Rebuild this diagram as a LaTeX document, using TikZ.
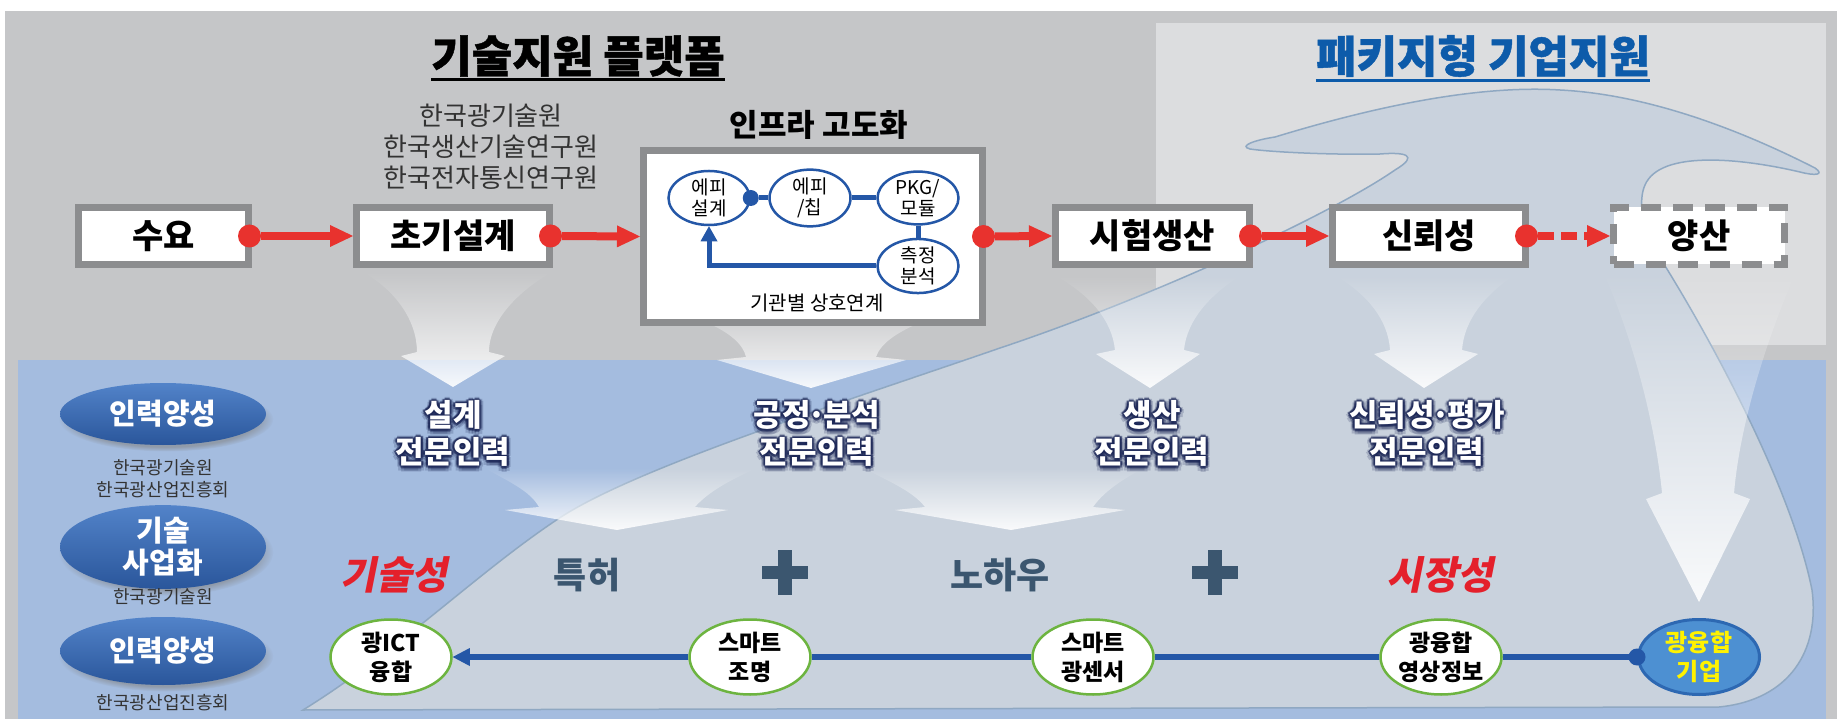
\documentclass[tikz,border=0pt]{standalone}
\usepackage{fontspec}
\setmainfont{Noto Sans CJK KR}
\newfontfamily\krsl{Noto Sans CJK KR}[BoldFeatures={FakeSlant=0.2}]
\newfontfamily\krheavy{Noto Sans CJK KR}[BoldFeatures={FakeBold=1}]
\usetikzlibrary{arrows.meta,shapes.geometric,shadows,fadings}
\definecolor{bggray}{HTML}{C5C6C8}
\definecolor{panel}{HTML}{DCDDDF}
\definecolor{bluebg}{HTML}{A4BCDF}
\definecolor{wavefill}{HTML}{C9D2DD}
\definecolor{waveline}{HTML}{8FA8C2}
\definecolor{boxgray}{HTML}{8C8D8F}
\definecolor{redc}{HTML}{E8322E}
\definecolor{bluec}{HTML}{2457A7}
\definecolor{titleblue}{HTML}{0D5BAA}
\definecolor{plusc}{HTML}{3B566F}
\definecolor{redtext}{HTML}{E4202B}
\definecolor{greenc}{HTML}{6DB440}
\definecolor{kiupfill}{HTML}{4D90D2}
\definecolor{kiupdraw}{HTML}{2D68B2}
\definecolor{elltop}{HTML}{5283C9}
\definecolor{ellbot}{HTML}{2A569B}
\definecolor{glowc}{HTML}{1B2656}
\definecolor{subtext}{HTML}{333333}
\tikzfading[name=fadetop, top color=transparent!100, middle color=transparent!50, bottom color=transparent!5]
\newcommand\mdot{\kern-.1em·\kern-.1em}
\newcommand\glowlabel[4]{%
  \foreach \dx/\dy [count=\k] in {-4/1,4/1,0/-3,0/6,-3/-1,3/-1,-3/5,3/5}{
    \node[glowfar] (#1f\k) at (#2+\dx,#3+\dy) {#4};}
  \foreach \dx/\dy [count=\k] in {-2/0.5,2/0.5,0/-1.5,0/3,-1.5/-1,1.5/-1,-1.5/2.5,1.5/2.5}{
    \node[glownear] (#1n\k) at (#2+\dx,#3+\dy) {#4};}
  \node[glowtext] (#1) at (#2,#3) {#4};}
\begin{document}
\begin{tikzpicture}[x=1pt,y=-1pt,
  every node/.style={inner sep=0pt},
  pbox/.style={draw=boxgray, line width=7pt, fill=white, minimum height=57pt, inner sep=0pt, font=\bfseries\fontsize{34}{34}\selectfont},
  redarr/.style={draw=redc, line width=8pt, shorten <=-14pt, {Circle[length=23pt,width=23pt,line width=0pt]}-{Triangle[length=23pt,width=22pt,line width=0pt]}},
  iell/.style={ellipse, draw=bluec, line width=2.5pt, fill=white, minimum width=81pt, minimum height=45pt, inner sep=0pt, align=center, font=\fontsize{19}{21}\selectfont},
  bluel/.style={draw=bluec, line width=5pt},
  funnel/.style={fill=white, path fading=fadetop, fill opacity=0.95},
  glowtext/.style={text=white, font=\bfseries\fontsize{31}{37}\selectfont, align=center, inner sep=0pt},
  glownear/.style={glowtext, text=glowc, text opacity=0.55},
  glowfar/.style={glowtext, text=glowc, text opacity=0.2},
  lell/.style={ellipse, minimum width=206pt, top color=elltop, bottom color=ellbot, text=white, font=\bfseries\fontsize{29}{32}\selectfont, align=center, inner sep=0pt, circular drop shadow={shadow xshift=3pt, shadow yshift=-5pt, shadow scale=1.04, opacity=0.55}},
  sublab/.style={text=subtext, font=\fontsize{18}{22}\selectfont, align=center},
  gcirc/.style={ellipse, draw=greenc, line width=2.5pt, fill=white, minimum width=121pt, minimum height=75pt, inner sep=0pt, align=center, font=\bfseries\fontsize{23}{29}\selectfont},
  botl/.style={draw=bluec, line width=6pt},
  bigword/.style={font=\bfseries\fontsize{36}{36}\selectfont, text=plusc},
  redword/.style={font=\krsl\bfseries\fontsize{39}{39}\selectfont, text=redtext}
]
\useasboundingbox (0,0) rectangle (1837,719);
% backgrounds
\fill[white] (0,0) rectangle (1837,719);
\fill[bggray] (5,11) rectangle (1837,719);
\fill[panel] (1156,23) rectangle (1826,345);
\fill[bluebg] (18,360) rectangle (1826,719);
% wave
\filldraw[fill=wavefill, draw=waveline, line width=1.5pt]
  (303,710) .. controls (400,650) and (480,570) .. (561,517)
  .. controls (640,466) and (850,400) .. (1000,348)
  .. controls (1150,298) and (1330,215) .. (1395,170)
  .. controls (1420,155) and (1405,152) .. (1380,154)
  .. controls (1330,155) and (1270,152) .. (1250,149)
  .. controls (1238,146) and (1255,140) .. (1275,137)
  .. controls (1380,105) and (1480,85) .. (1560,90)
  .. controls (1660,95) and (1760,140) .. (1815,168)
  .. controls (1825,175) and (1815,176) .. (1800,172)
  .. controls (1740,158) and (1660,150) .. (1645,185)
  .. controls (1638,200) and (1642,230) .. (1655,250)
  .. controls (1700,320) and (1790,480) .. (1812,590)
  .. controls (1820,650) and (1790,700) .. (1719,707)
  -- cycle;
% funnel arrows
\fill[funnel] (363,272) .. controls (395,290) and (417,320) .. (417,352) -- (401,356) -- (453,387) -- (505,356) -- (489,352) .. controls (489,320) and (520,290) .. (552,272) -- cycle;
\fill[funnel] (645,300) .. controls (690,315) and (740,330) .. (746,357) -- (717,360) -- (811,388) -- (906,360) -- (876,357) .. controls (885,330) and (940,315) .. (985,300) -- cycle;
\fill[funnel] (1056,276) .. controls (1090,295) and (1112,320) .. (1115,350) -- (1096,354) -- (1150,388) -- (1200,354) -- (1184,350) .. controls (1187,320) and (1210,295) .. (1240,276) -- cycle;
\fill[funnel] (1336,276) .. controls (1368,295) and (1388,320) .. (1390,350) -- (1374,354) -- (1424,388) -- (1478,354) -- (1462,350) .. controls (1464,320) and (1485,295) .. (1513,276) -- cycle;
\fill[funnel] (1603,272) .. controls (1630,330) and (1655,420) .. (1662,493) -- (1646,499) -- (1699,602) -- (1750,499) -- (1734,493) .. controls (1740,420) and (1770,330) .. (1796,272) -- cycle;
\fill[funnel] (485,468) .. controls (505,480) and (530,490) .. (539,507) -- (505,510) -- (617,530) -- (728,510) -- (695,507) .. controls (710,490) and (735,478) .. (757,468) -- cycle;
\fill[funnel] (864,468) .. controls (885,480) and (912,490) .. (925,507) -- (895,510) -- (1011,530) -- (1125,510) -- (1093,507) .. controls (1105,490) and (1125,478) .. (1144,468) -- cycle;
% titles
\node[font=\krheavy\bfseries\fontsize{44}{44}\selectfont] (t1) at (578,56) {기술지원 플랫폼};
\draw[line width=3pt] ([yshift=-3pt]t1.south west) -- ([yshift=-3pt]t1.south east);
\node[font=\krheavy\bfseries\fontsize{44}{44}\selectfont, text=titleblue] (t2) at (1483,56) {패키지형 기업지원};
\draw[line width=3pt, titleblue] ([yshift=-3pt]t2.south west) -- ([yshift=-3pt]t2.south east);
\node[align=center, text=subtext, font=\fontsize{26}{31}\selectfont] (inst) at (491,147) {한국광기술원\\한국생산기술연구원\\한국전자통신연구원};
\node[font=\bfseries\fontsize{31}{31}\selectfont] (infratitle) at (819,125) {인프라 고도화};
% process boxes
\node[pbox, minimum width=170pt] (sy) at (163.5,236) {수요};
\node[pbox, minimum width=193pt] (cg) at (453,236) {초기설계};
\node[pbox, minimum width=339pt, minimum height=172pt] (infra) at (813,236.5) {};
\node[pbox, minimum width=194pt] (sh) at (1152.5,236) {시험생산};
\node[pbox, minimum width=193pt] (sr) at (1429,236) {신뢰성};
\node[pbox, minimum width=171pt, dash pattern=on 20pt off 12pt] (ys) at (1699,236) {양산};
% infra contents
\node[iell] (e1) at (709,198) {에피\\설계};
\node[iell] (e2) at (810,198) {에피\\/칩};
\node[iell] (e3) at (918,198) {PKG/\\모듈};
\node[iell] (e4) at (918,266) {측정\\분석};
\draw[bluel, shorten <=-8pt, {Circle[length=16pt,width=16pt,line width=0pt]}-] (e1) -- (e2);
\draw[bluel] (e2) -- (e3);
\draw[bluel] (e3) -- (e4);
\draw[bluel, -{Triangle[length=15pt,width=17pt,line width=0pt]}] (e4.west) -| (e1.south);
\node[font=\fontsize{20}{20}\selectfont] (gg) at (817,303) {기관별 상호연계};
% red connectors
\draw[redarr] (sy.east) -- (cg.west);
\draw[redarr] (cg.east) -- (infra.west);
\draw[redarr] (infra.east) -- (sh.west);
\draw[redarr] (sh.east) -- (sr.west);
\draw[redarr, dash pattern=on 16pt off 7pt] (sr.east) -- (ys.west);
% glow labels
\glowlabel{lb1}{453}{433}{설계\\전문인력}
\glowlabel{lb2}{817}{433}{공정\mdot{}분석\\전문인력}
\glowlabel{lb3}{1152}{433}{생산\\전문인력}
\glowlabel{lb4}{1427}{433}{신뢰성\mdot{}평가\\전문인력}
% left ellipses
\node[lell, minimum height=62pt] (l1) at (163,414) {인력양성};
\node[sublab] (s1) at (163,479) {한국광기술원\\한국광산업진흥회};
\node[lell, minimum height=70pt] (l2) at (163,547) {기술\\사업화};
\node[sublab] (s2) at (163,597) {한국광기술원};
\node[lell, minimum height=68pt] (l3) at (163,651) {인력양성};
\node[sublab] (s3) at (163,703) {한국광산업진흥회};
% middle words
\node[redword] (w1) at (394,575) {기술성};
\node[bigword] (w2) at (587,575) {특허};
\node[bigword] (w3) at (1000,575) {노하우};
\node[redword] (w4) at (1440,575) {시장성};
\fill[plusc] (762,566) rectangle (808,579);
\fill[plusc] (778,550) rectangle (792,595);
\fill[plusc] (1192,566) rectangle (1238,579);
\fill[plusc] (1208,550) rectangle (1222,595);
% bottom row
\node[gcirc] (ict) at (391,657) {광ICT\\융합};
\node[gcirc] (jm) at (750,657) {스마트\\조명};
\node[gcirc] (ss) at (1093,657) {스마트\\광센서};
\node[gcirc] (yj) at (1441,657) {광융합\\영상정보};
\node[gcirc, draw=kiupdraw, fill=kiupfill, line width=3pt, text=yellow, font=\bfseries\fontsize{24}{29}\selectfont] (gk) at (1699,657) {광융합\\기업};
\draw[botl, shorten <=-8.5pt, {Circle[length=17pt,width=17pt,line width=0pt]}-] (gk.west) -- (yj.east);
\draw[botl] (yj) -- (ss);
\draw[botl] (ss) -- (jm);
\draw[botl, -{Triangle[length=17pt,width=18pt,line width=0pt]}] (jm) -- (ict);
\end{tikzpicture}
\end{document}
